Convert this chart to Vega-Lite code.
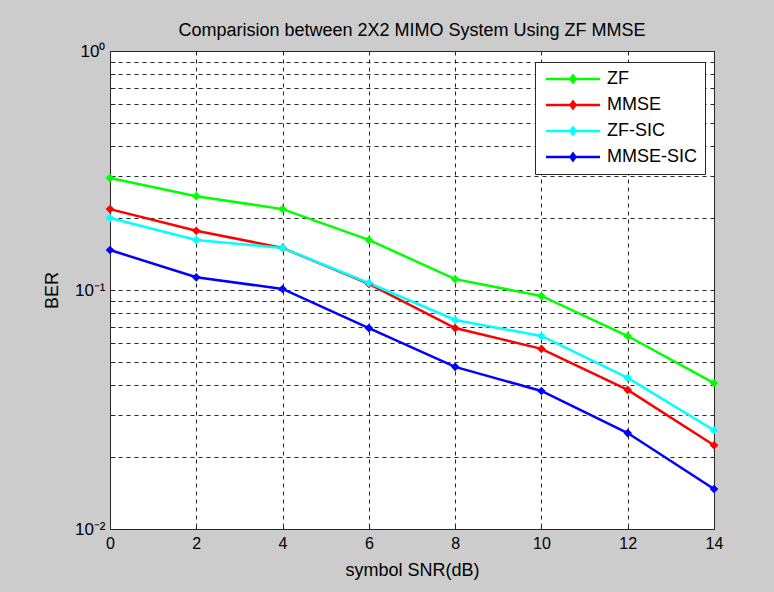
{
  "$schema": "https://vega.github.io/schema/vega-lite/v6.json",
  "autosize": {"type": "none"},
  "width": 604,
  "height": 478,
  "padding": {"left": 110, "top": 51, "right": 60, "bottom": 63},
  "background": "#cccccc",
  "title": {
    "text": "Comparision between 2X2 MIMO System Using ZF MMSE",
    "font": "Liberation Sans",
    "fontSize": 18,
    "fontWeight": "normal",
    "color": "#000000",
    "offset": 2,
    "anchor": "middle"
  },
  "config": {
    "view": {"fill": "#ffffff", "stroke": "#262626", "strokeWidth": 1},
    "axis": {
      "labelFont": "Liberation Sans",
      "labelFontSize": 16,
      "labelColor": "#000000",
      "titleFont": "Liberation Sans",
      "titleFontSize": 18,
      "titleFontWeight": "normal",
      "titleColor": "#000000",
      "domainColor": "#262626",
      "tickColor": "#262626",
      "tickSize": -5,
      "gridColor": "#262626",
      "gridDash": [4, 4],
      "gridOpacity": 1,
      "gridWidth": 1
    }
  },
  "data": {
    "values": [
      {"snr": 0, "ber": 0.294, "scheme": "ZF"},
      {"snr": 2, "ber": 0.247, "scheme": "ZF"},
      {"snr": 4, "ber": 0.218, "scheme": "ZF"},
      {"snr": 6, "ber": 0.162, "scheme": "ZF"},
      {"snr": 8, "ber": 0.111, "scheme": "ZF"},
      {"snr": 10, "ber": 0.0944, "scheme": "ZF"},
      {"snr": 12, "ber": 0.0642, "scheme": "ZF"},
      {"snr": 14, "ber": 0.0408, "scheme": "ZF"},
      {"snr": 0, "ber": 0.218, "scheme": "MMSE"},
      {"snr": 2, "ber": 0.177, "scheme": "MMSE"},
      {"snr": 4, "ber": 0.150, "scheme": "MMSE"},
      {"snr": 6, "ber": 0.106, "scheme": "MMSE"},
      {"snr": 8, "ber": 0.0693, "scheme": "MMSE"},
      {"snr": 10, "ber": 0.0567, "scheme": "MMSE"},
      {"snr": 12, "ber": 0.0382, "scheme": "MMSE"},
      {"snr": 14, "ber": 0.0224, "scheme": "MMSE"},
      {"snr": 0, "ber": 0.200, "scheme": "ZF-SIC"},
      {"snr": 2, "ber": 0.162, "scheme": "ZF-SIC"},
      {"snr": 4, "ber": 0.150, "scheme": "ZF-SIC"},
      {"snr": 6, "ber": 0.107, "scheme": "ZF-SIC"},
      {"snr": 8, "ber": 0.0749, "scheme": "ZF-SIC"},
      {"snr": 10, "ber": 0.0642, "scheme": "ZF-SIC"},
      {"snr": 12, "ber": 0.0429, "scheme": "ZF-SIC"},
      {"snr": 14, "ber": 0.0259, "scheme": "ZF-SIC"},
      {"snr": 0, "ber": 0.147, "scheme": "MMSE-SIC"},
      {"snr": 2, "ber": 0.113, "scheme": "MMSE-SIC"},
      {"snr": 4, "ber": 0.101, "scheme": "MMSE-SIC"},
      {"snr": 6, "ber": 0.0693, "scheme": "MMSE-SIC"},
      {"snr": 8, "ber": 0.0477, "scheme": "MMSE-SIC"},
      {"snr": 10, "ber": 0.0378, "scheme": "MMSE-SIC"},
      {"snr": 12, "ber": 0.0252, "scheme": "MMSE-SIC"},
      {"snr": 14, "ber": 0.0147, "scheme": "MMSE-SIC"}
    ]
  },
  "mark": {
    "type": "line",
    "strokeWidth": 2.5,
    "point": {"shape": "diamond", "size": 75, "filled": true}
  },
  "encoding": {
    "x": {
      "field": "snr",
      "type": "quantitative",
      "scale": {"domain": [0, 14], "nice": false},
      "axis": {
        "values": [0, 2, 4, 6, 8, 10, 12, 14],
        "title": "symbol SNR(dB)",
        "labelFlush": false,
        "labelPadding": 11,
        "titlePadding": 10
      }
    },
    "y": {
      "field": "ber",
      "type": "quantitative",
      "scale": {"type": "log", "domain": [0.01, 1], "nice": false},
      "axis": {
        "values": [0.01, 0.02, 0.03, 0.04, 0.05, 0.06, 0.07, 0.08, 0.09, 0.1, 0.2, 0.3, 0.4, 0.5, 0.6, 0.7, 0.8, 0.9, 1],
        "labelExpr": "datum.value == 1 ? '10⁰' : datum.value == 0.1 ? '10⁻¹' : datum.value == 0.01 ? '10⁻²' : ''",
        "labelFontSize": 17,
        "labelFlush": false,
        "title": "BER",
        "labelPadding": 10,
        "titlePadding": 13
      }
    },
    "color": {
      "field": "scheme",
      "type": "nominal",
      "scale": {
        "domain": ["ZF", "MMSE", "ZF-SIC", "MMSE-SIC"],
        "range": ["#00ff00", "#ff0000", "#00ffff", "#0000ff"]
      },
      "legend": {
        "title": null,
        "orient": "none",
        "legendX": 425,
        "legendY": 11,
        "fillColor": "#ffffff",
        "strokeColor": "#262626",
        "padding": 8,
        "labelFont": "Liberation Sans",
        "labelFontSize": 18,
        "labelColor": "#000000",
        "symbolType": "M-3,-0.14L3,-0.14L3,0.14L-3,0.14Z M0,-0.6L0.45,0L0,0.6L-0.45,0Z",
        "symbolSize": 324,
        "symbolStrokeWidth": 0,
        "symbolOffset": 21,
        "labelOffset": 25,
        "rowPadding": 8,
        "encode": {
          "symbols": {"update": {"fill": {"scale": "color", "field": "value"}, "fillOpacity": {"value": 1}}}
        }
      }
    }
  }
}
